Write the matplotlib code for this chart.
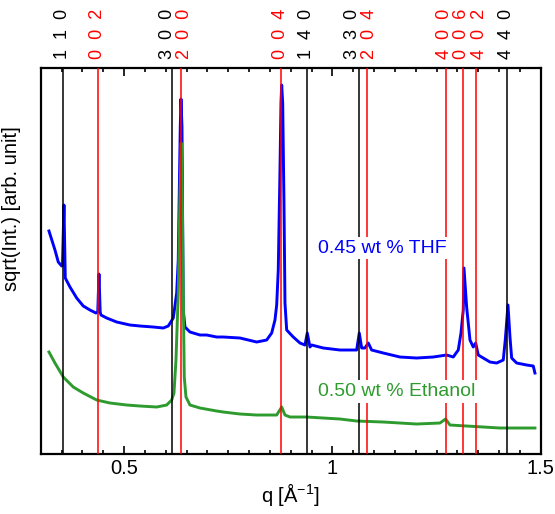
import matplotlib
matplotlib.use("Agg")
import matplotlib.pyplot as plt
import numpy as np
from matplotlib.ticker import MultipleLocator

plt.rcParams['font.family'] = ['Liberation Sans', 'DejaVu Sans']

# THF sample, sqrt(intensity) in arb. units
q_thf = [0.3199, 0.3343, 0.3422, 0.3504, 0.3523, 0.3559, 0.3590, 0.3703, 0.3864,
         0.4022, 0.4183, 0.4327, 0.4370, 0.4399, 0.4428, 0.4447, 0.4584, 0.4824,
         0.5143, 0.5383, 0.5702, 0.5942, 0.6062, 0.6182, 0.6264, 0.6302, 0.6326,
         0.6350, 0.6367, 0.6391, 0.6408, 0.6422, 0.6463, 0.6583, 0.6823, 0.6984,
         0.7224, 0.7382, 0.7783, 0.8184, 0.8424, 0.8544, 0.8623, 0.8664, 0.8702,
         0.8743, 0.8767, 0.8784, 0.8808, 0.8839, 0.8863, 0.8904, 0.9062, 0.9223,
         0.9343, 0.9398, 0.9463, 0.9504, 0.9782, 1.0183, 1.0502, 1.0583, 1.0646,
         1.0704, 1.0783, 1.0862, 1.0943, 1.1222, 1.1622, 1.2023, 1.2422, 1.2743,
         1.2902, 1.3022, 1.3087, 1.3142, 1.3159, 1.3223, 1.3303, 1.3382, 1.3440,
         1.3502, 1.3622, 1.3783, 1.3943, 1.4102, 1.4150, 1.4215, 1.4263, 1.4303,
         1.4423, 1.4663, 1.4822, 1.4862]
I_thf = [2.23, 2.04, 1.92, 1.88, 1.89, 2.49, 1.76, 1.67, 1.56,
         1.48, 1.44, 1.41, 1.42, 1.80, 1.42, 1.39, 1.36, 1.32,
         1.29, 1.28, 1.27, 1.26, 1.28, 1.36, 1.61, 1.94, 2.61,
         3.27, 3.55, 3.27, 2.27, 1.44, 1.27, 1.22, 1.19, 1.19,
         1.17, 1.17, 1.16, 1.12, 1.14, 1.21, 1.34, 1.49, 1.84,
         2.84, 3.51, 3.69, 3.51, 2.51, 1.51, 1.24, 1.17, 1.11,
         1.09, 1.21, 1.07, 1.09, 1.06, 1.04, 1.04, 1.04, 1.21,
         1.06, 1.06, 1.11, 1.04, 1.01, 0.97, 0.96, 0.97, 0.99,
         0.97, 1.04, 1.21, 1.44, 1.86, 1.47, 1.14, 1.07, 1.11,
         0.99, 0.96, 0.92, 0.91, 0.94, 1.14, 1.49, 1.17, 0.96,
         0.91, 0.89, 0.88, 0.81]

# Ethanol sample
q_eth = [0.3199, 0.3343, 0.3542, 0.3782, 0.4022, 0.4344, 0.4663, 0.5064, 0.5383,
         0.5784, 0.6024, 0.6144, 0.6199, 0.6247, 0.6302, 0.6343, 0.6374, 0.6398,
         0.6422, 0.6446, 0.6487, 0.6583, 0.6823, 0.7224, 0.7382, 0.7783, 0.8184,
         0.8664, 0.8784, 0.8863, 0.8983, 0.9384, 0.9782, 1.0183, 1.0583, 1.1222,
         1.2023, 1.2582, 1.2719, 1.2822, 1.3223, 1.3622, 1.4023, 1.4423, 1.4862]
I_eth = [1.02, 0.91, 0.77, 0.67, 0.61, 0.54, 0.51, 0.49, 0.48,
         0.47, 0.49, 0.54, 0.61, 0.94, 1.61, 2.61, 3.11, 2.61,
         1.61, 0.77, 0.57, 0.49, 0.46, 0.43, 0.42, 0.40, 0.39,
         0.39, 0.47, 0.39, 0.37, 0.37, 0.36, 0.35, 0.33, 0.32,
         0.30, 0.31, 0.35, 0.29, 0.28, 0.27, 0.26, 0.26, 0.26]

# reflections: hexagonal (black) and rectangular (red)
hex_q = [0.3525, 0.6150, 0.9384, 1.0640, 1.4180]
hex_hkl = ['1  1  0', '3  0  0', '1  4  0', '3  3  0', '4  4  0']
rect_q = [0.4375, 0.6360, 0.8760, 1.0820, 1.2720, 1.3135, 1.3454]
rect_hkl = ['0  0  2', '2  0  0', '0  0  4', '2  0  4', '4  0  0', '0  0  6', '4  0  2']

# small sideways nudges (points) so neighbouring labels don't overlap
nudge = {'3  0  0': -3.0, '2  0  0': 2.8, '3  3  0': -4.6, '2  0  4': 2.0,
         '4  0  0': -0.6, '0  0  6': -1.2, '4  0  2': 2.4}

fig = plt.figure(figsize=(5.55, 5.14), dpi=100)
ax = fig.add_axes([0.0733, 0.1167, 0.9009, 0.751])

ax.plot(q_thf, I_thf, color='#0000ff', lw=2.1, zorder=2)
ax.plot(q_eth, I_eth, color='#2e9b2e', lw=2.1, zorder=2)

for qq, lab in zip(hex_q, hex_hkl):
    ax.axvline(qq, color='black', lw=1.1, zorder=3)
    ax.annotate(lab, xy=(qq, 1), xycoords=('data', 'axes fraction'),
                xytext=(nudge.get(lab, 0), 6.5), textcoords='offset points',
                rotation=90, ha='center', va='bottom', fontsize=13, color='black',
                annotation_clip=False)
for qq, lab in zip(rect_q, rect_hkl):
    ax.axvline(qq, color='red', lw=1.1, zorder=3)
    ax.annotate(lab, xy=(qq, 1), xycoords=('data', 'axes fraction'),
                xytext=(nudge.get(lab, 0), 6.5), textcoords='offset points',
                rotation=90, ha='center', va='bottom', fontsize=13, color='red',
                annotation_clip=False)

ax.text(0.9655, 2.06, '0.45 wt % THF', color='#0000ff', fontsize=14, va='center',
        ha='left', zorder=4, bbox=dict(facecolor='white', edgecolor='none', pad=2))
ax.text(0.9655, 0.623, '0.50 wt % Ethanol', color='#2e9b2e', fontsize=14, va='center',
        ha='left', zorder=4, bbox=dict(facecolor='white', edgecolor='none', pad=2))

ax.set_xlim(0.3, 1.5)
ax.set_ylim(0, 3.86)
ax.xaxis.set_major_locator(MultipleLocator(0.5))
ax.xaxis.set_minor_locator(MultipleLocator(0.05))
ax.set_xticks([0.5, 1.0, 1.5])
ax.set_xticklabels(['0.5', '1', '1.5'])
ax.set_yticks([])
ax.tick_params(axis='x', which='both', direction='in', top=True, labelsize=14.5, width=1.2)
ax.tick_params(axis='x', which='major', length=6)
ax.tick_params(axis='x', which='minor', length=3)
for s in ax.spines.values():
    s.set_linewidth(1.6)

ax.set_xlabel('q [Å$^{\\mathregular{-1}}$]', fontsize=14.5, labelpad=2)
ax.set_ylabel('sqrt(Int.) [arb. unit]', fontsize=14.5)
ax.yaxis.set_label_coords(-0.039, 0.637)

fig.savefig('out.png', dpi=100)
